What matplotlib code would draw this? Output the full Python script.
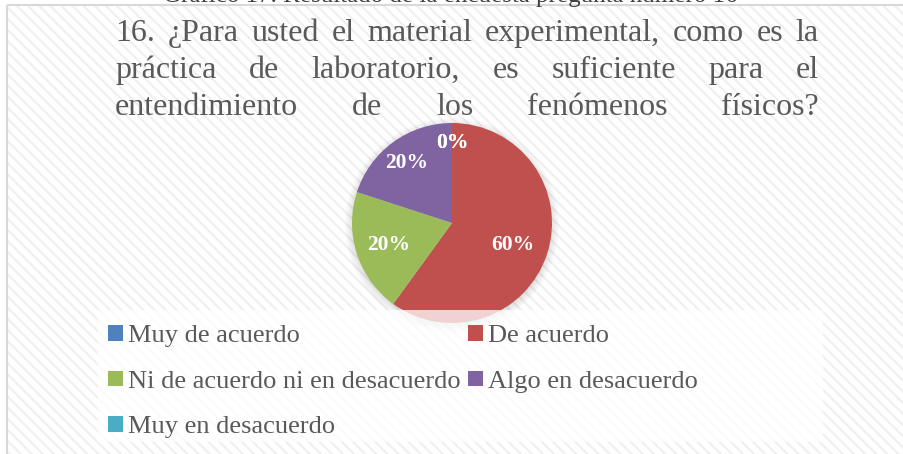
import numpy as np
import matplotlib
matplotlib.use("Agg")
import matplotlib.pyplot as plt
from matplotlib.patches import Rectangle, Circle

# data
categories = ["Muy de acuerdo", "De acuerdo", "Ni de acuerdo ni en desacuerdo",
              "Algo en desacuerdo", "Muy en desacuerdo"]
values = [0, 60, 20, 20, 0]
colors = ["#4F81BD", "#C0504D", "#9BBB59", "#8064A2", "#4BACC6"]
title_lines = ["16. ¿Para usted el material experimental, como es la",
               "práctica de laboratorio, es suficiente para el",
               "entendimiento de los fenómenos físicos?"]
caption = "Gráfico 17. Resultado de la encuesta pregunta número 16"

W, H = 904, 454
plt.rcParams["font.family"] = ["Liberation Serif", "DejaVu Serif"]
plt.rcParams["hatch.linewidth"] = 1.6

fig = plt.figure(figsize=(W / 100, H / 100), dpi=100)
fig.patch.set_facecolor("white")

# background axes in pixel units
bg = fig.add_axes([0, 0, 1, 1])
bg.set_xlim(0, W)
bg.set_ylim(H, 0)
bg.axis("off")

# striped chart area with grey frame
bg.add_patch(Rectangle((7, 5), W + 10, H + 10, facecolor="white",
                       edgecolor="#f0f0f0", lw=0, hatch="\\\\\\", zorder=0))
bg.add_patch(Rectangle((7, 5), W + 10, H + 10, facecolor="none",
                       edgecolor="#d9d9d9", lw=1.5, zorder=1))

# caption cut off at the top (as in the source screenshot)
bg.text(450, 2, caption, ha="center", va="baseline", fontsize=18,
        color="#404040", zorder=2)

# justified title
renderer = fig.canvas.get_renderer()
left, right = 115, 819
for i, line in enumerate(title_lines):
    words = line.split(" ")
    texts = [bg.text(0, 41 + 37 * i, w, fontsize=23, color="#595959",
                     va="baseline", ha="left", zorder=3) for w in words]
    widths = [t.get_window_extent(renderer).width for t in texts]
    gap = (right - left - sum(widths)) / (len(words) - 1)
    x = left
    for t, wd in zip(texts, widths):
        t.set_x(x)
        x += wd + gap

# soft shadow behind the pie
cx, cy, r = 452, 223, 100
for k in range(6):
    bg.add_patch(Circle((cx, cy + 2), r + 7 - k * 1.4, facecolor="#000000",
                        alpha=0.02, edgecolor="none", zorder=2))

# pie
pax = fig.add_axes([(cx - r) / W, (H - cy - r) / H, 2 * r / W, 2 * r / H])
wedges, _, autotexts = pax.pie(values, colors=colors, startangle=90,
                               counterclock=False, radius=1,
                               autopct=lambda p: f"{p:.0f}%",
                               wedgeprops=dict(linewidth=0),
                               textprops=dict(color="white", fontsize=15.5,
                                              fontweight="bold"))
pax.set_xlim(-1, 1)
pax.set_ylim(-1, 1)
pax.set_aspect("equal")
pax.axis("off")
label_pos = [(0.0, 0.80), (0.61, -0.22), (-0.63, -0.22), (-0.45, 0.60), (0.0, 0.80)]
for t, p in zip(autotexts, label_pos):
    t.set_position(p)
    t.set_ha("center")
    t.set_va("center")

# legend box (semi-transparent over the pie bottom)
fig.add_artist(Rectangle((98, 310), 725, 132, transform=bg.transData,
                         facecolor="white", alpha=0.75, edgecolor="none", zorder=2))

order = [0, 2, 4, 1, 3]
leg = fig.legend([wedges[i] for i in order], [categories[i] for i in order],
                 ncol=2, loc="upper left", bbox_to_anchor=(108, 325),
                 bbox_transform=bg.transData, frameon=False, fontsize=19,
                 handlelength=0.55, handleheight=0.55, handletextpad=0.2,
                 columnspacing=0.3, labelspacing=0.88, borderpad=0,
                 borderaxespad=0, labelcolor="#595959")
leg.set_zorder(5)

fig.savefig("out.png", dpi=100)
